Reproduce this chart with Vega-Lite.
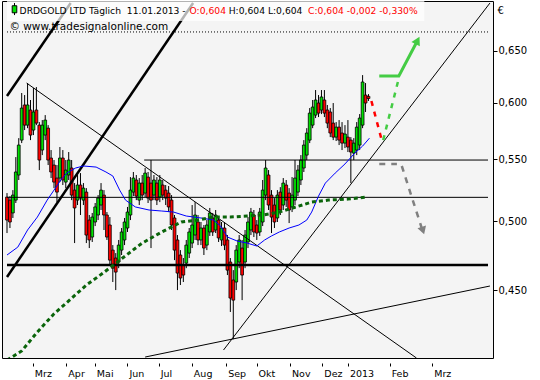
{
"$schema":"https://vega.github.io/schema/vega-lite/v6.json",
"width":491,"height":357,
"autosize":{"type":"none"},
"padding":{"left":2,"top":1,"right":47,"bottom":22},
"background":"white",
"config":{"font":"DejaVu Sans","view":{"stroke":"black","strokeWidth":1,"fill":"#f4f4f4"},"axis":{"labelColor":"black","tickColor":"black","titleColor":"black","labelFont":"DejaVu Sans","titleFont":"DejaVu Sans"}},
"datasets":{
"candles":[
{"i":0,"o":0.5191,"h":0.5223,"l":0.4912,"c":0.5011},{"i":1,"o":0.5167,"h":0.5199,"l":0.4950,"c":0.4996},{"i":2,"o":0.5066,"h":0.5247,"l":0.5027,"c":0.5207},{"i":3,"o":0.5167,"h":0.5520,"l":0.5144,"c":0.5395},{"i":4,"o":0.5370,"h":0.5683,"l":0.5329,"c":0.5623},{"i":5,"o":0.5666,"h":0.6091,"l":0.5640,"c":0.5952},{"i":6,"o":0.5980,"h":0.6072,"l":0.5754,"c":0.5798},{"i":7,"o":0.5798,"h":0.6185,"l":0.5771,"c":0.5980},{"i":8,"o":0.5934,"h":0.6026,"l":0.5666,"c":0.5710},{"i":9,"o":0.5754,"h":0.6138,"l":0.5710,"c":0.5916},
{"i":10,"o":0.5934,"h":0.6147,"l":0.5798,"c":0.5816},{"i":11,"o":0.5798,"h":0.5825,"l":0.5411,"c":0.5495},{"i":12,"o":0.5580,"h":0.5843,"l":0.5537,"c":0.5798},{"i":13,"o":0.5710,"h":0.5888,"l":0.5666,"c":0.5843},{"i":14,"o":0.5771,"h":0.5798,"l":0.5453,"c":0.5495},{"i":15,"o":0.5512,"h":0.5580,"l":0.5345,"c":0.5395},{"i":16,"o":0.5453,"h":0.5495,"l":0.5263,"c":0.5312},{"i":17,"o":0.5345,"h":0.5453,"l":0.5151,"c":0.5231},{"i":18,"o":0.5345,"h":0.5606,"l":0.5312,"c":0.5512},{"i":19,"o":0.5512,"h":0.5580,"l":0.5288,"c":0.5329},
{"i":20,"o":0.5312,"h":0.5495,"l":0.5263,"c":0.5411},{"i":21,"o":0.5370,"h":0.5563,"l":0.5329,"c":0.5495},{"i":22,"o":0.5428,"h":0.5495,"l":0.5167,"c":0.5207},{"i":23,"o":0.5247,"h":0.5304,"l":0.4837,"c":0.5105},{"i":24,"o":0.5167,"h":0.5370,"l":0.5128,"c":0.5288},{"i":25,"o":0.5288,"h":0.5386,"l":0.5050,"c":0.5183},{"i":26,"o":0.5167,"h":0.5304,"l":0.5128,"c":0.5263},{"i":27,"o":0.5231,"h":0.5263,"l":0.4837,"c":0.4897},{"i":28,"o":0.5011,"h":0.5050,"l":0.4800,"c":0.4860},{"i":29,"o":0.4882,"h":0.5066,"l":0.4845,"c":0.5034},
{"i":30,"o":0.4996,"h":0.5144,"l":0.4965,"c":0.5113},{"i":31,"o":0.5050,"h":0.5207,"l":0.5011,"c":0.5183},{"i":32,"o":0.5128,"h":0.5304,"l":0.5089,"c":0.5247},{"i":33,"o":0.5207,"h":0.5247,"l":0.4935,"c":0.5050},{"i":34,"o":0.5050,"h":0.5073,"l":0.4860,"c":0.4882},{"i":35,"o":0.4973,"h":0.5034,"l":0.4676,"c":0.4712},{"i":36,"o":0.4785,"h":0.4822,"l":0.4556,"c":0.4654},{"i":37,"o":0.4727,"h":0.4763,"l":0.4500,"c":0.4626},{"i":38,"o":0.4698,"h":0.4860,"l":0.4654,"c":0.4822},{"i":39,"o":0.4785,"h":0.4950,"l":0.4749,"c":0.4920},
{"i":40,"o":0.4860,"h":0.5027,"l":0.4822,"c":0.4996},{"i":41,"o":0.4950,"h":0.5113,"l":0.4920,"c":0.5073},{"i":42,"o":0.5050,"h":0.5353,"l":0.5011,"c":0.5247},{"i":43,"o":0.5231,"h":0.5395,"l":0.5199,"c":0.5345},{"i":44,"o":0.5329,"h":0.5370,"l":0.5167,"c":0.5199},{"i":45,"o":0.5167,"h":0.5345,"l":0.5128,"c":0.5304},{"i":46,"o":0.5304,"h":0.5370,"l":0.5167,"c":0.5207},{"i":47,"o":0.5223,"h":0.5428,"l":0.5191,"c":0.5386},{"i":48,"o":0.5353,"h":0.5395,"l":0.5144,"c":0.5183},{"i":49,"o":0.5304,"h":0.5495,"l":0.4800,"c":0.5167},
{"i":50,"o":0.5207,"h":0.5370,"l":0.5167,"c":0.5329},{"i":51,"o":0.5304,"h":0.5353,"l":0.5128,"c":0.5167},{"i":52,"o":0.5191,"h":0.5370,"l":0.5151,"c":0.5329},{"i":53,"o":0.5288,"h":0.5329,"l":0.5167,"c":0.5207},{"i":54,"o":0.5247,"h":0.5288,"l":0.5128,"c":0.5183},{"i":55,"o":0.5223,"h":0.5280,"l":0.5073,"c":0.5113},{"i":56,"o":0.5167,"h":0.5207,"l":0.4935,"c":0.4973},{"i":57,"o":0.5027,"h":0.5050,"l":0.4712,"c":0.4785},{"i":58,"o":0.4860,"h":0.4897,"l":0.4500,"c":0.4619},{"i":59,"o":0.4749,"h":0.4785,"l":0.4535,"c":0.4584},
{"i":60,"o":0.4676,"h":0.4727,"l":0.4556,"c":0.4605},{"i":61,"o":0.4690,"h":0.4860,"l":0.4654,"c":0.4822},{"i":62,"o":0.4763,"h":0.4950,"l":0.4727,"c":0.4920},{"i":63,"o":0.4837,"h":0.5128,"l":0.4800,"c":0.4973},{"i":64,"o":0.4897,"h":0.5151,"l":0.4860,"c":0.5050},{"i":65,"o":0.4996,"h":0.5050,"l":0.4822,"c":0.4860},{"i":66,"o":0.4860,"h":0.4996,"l":0.4822,"c":0.4950},{"i":67,"o":0.4950,"h":0.4973,"l":0.4749,"c":0.4800},{"i":68,"o":0.4822,"h":0.5011,"l":0.4785,"c":0.4973},{"i":69,"o":0.4920,"h":0.5105,"l":0.4890,"c":0.5066},
{"i":70,"o":0.5027,"h":0.5066,"l":0.4890,"c":0.4920},{"i":71,"o":0.4935,"h":0.5089,"l":0.4912,"c":0.5050},{"i":72,"o":0.5011,"h":0.5042,"l":0.4845,"c":0.4875},{"i":73,"o":0.4860,"h":0.4996,"l":0.4815,"c":0.4950},{"i":74,"o":0.4950,"h":0.4996,"l":0.4785,"c":0.4822},{"i":75,"o":0.4860,"h":0.4897,"l":0.4605,"c":0.4640},{"i":76,"o":0.4698,"h":0.4727,"l":0.4351,"c":0.4445},{"i":77,"o":0.4570,"h":0.4640,"l":0.4173,"c":0.4431},{"i":78,"o":0.4556,"h":0.4822,"l":0.4500,"c":0.4785},{"i":79,"o":0.4698,"h":0.4897,"l":0.4654,"c":0.4860},
{"i":80,"o":0.4800,"h":0.4860,"l":0.4431,"c":0.4605},{"i":81,"o":0.4698,"h":0.4935,"l":0.4654,"c":0.4897},{"i":82,"o":0.4845,"h":0.5034,"l":0.4800,"c":0.4996},{"i":83,"o":0.4935,"h":0.5105,"l":0.4897,"c":0.5073},{"i":84,"o":0.5050,"h":0.5089,"l":0.4882,"c":0.4920},{"i":85,"o":0.4973,"h":0.5011,"l":0.4860,"c":0.4912},{"i":86,"o":0.4920,"h":0.5105,"l":0.4890,"c":0.5073},{"i":87,"o":0.4996,"h":0.5329,"l":0.4965,"c":0.5247},{"i":88,"o":0.5207,"h":0.5495,"l":0.5167,"c":0.5428},{"i":89,"o":0.5370,"h":0.5411,"l":0.5089,"c":0.5128},
{"i":90,"o":0.5207,"h":0.5247,"l":0.4912,"c":0.5034},{"i":91,"o":0.5128,"h":0.5183,"l":0.4950,"c":0.4996},{"i":92,"o":0.5027,"h":0.5247,"l":0.4996,"c":0.5207},{"i":93,"o":0.5231,"h":0.5271,"l":0.5050,"c":0.5089},{"i":94,"o":0.5128,"h":0.5345,"l":0.5089,"c":0.5304},{"i":95,"o":0.5288,"h":0.5329,"l":0.5113,"c":0.5167},{"i":96,"o":0.5223,"h":0.5263,"l":0.4988,"c":0.5089},{"i":97,"o":0.5113,"h":0.5353,"l":0.5073,"c":0.5207},{"i":98,"o":0.5167,"h":0.5495,"l":0.5128,"c":0.5345},{"i":99,"o":0.5231,"h":0.5453,"l":0.5199,"c":0.5411},
{"i":100,"o":0.5329,"h":0.5537,"l":0.5288,"c":0.5495},{"i":101,"o":0.5428,"h":0.5666,"l":0.5395,"c":0.5623},{"i":102,"o":0.5537,"h":0.5771,"l":0.5495,"c":0.5728},{"i":103,"o":0.5666,"h":0.5952,"l":0.5640,"c":0.5906},{"i":104,"o":0.5798,"h":0.6026,"l":0.5771,"c":0.5961},{"i":105,"o":0.5888,"h":0.6119,"l":0.5861,"c":0.6026},{"i":106,"o":0.5998,"h":0.6072,"l":0.5870,"c":0.5906},{"i":107,"o":0.5934,"h":0.6119,"l":0.5897,"c":0.6054},{"i":108,"o":0.6026,"h":0.6119,"l":0.5870,"c":0.5906},{"i":109,"o":0.5934,"h":0.5980,"l":0.5771,"c":0.5816},
{"i":110,"o":0.5916,"h":0.5952,"l":0.5692,"c":0.5728},{"i":111,"o":0.5816,"h":0.5998,"l":0.5666,"c":0.5692},{"i":112,"o":0.5692,"h":0.5825,"l":0.5658,"c":0.5780},{"i":113,"o":0.5780,"h":0.5843,"l":0.5623,"c":0.5666},{"i":114,"o":0.5728,"h":0.5825,"l":0.5580,"c":0.5640},{"i":115,"o":0.5640,"h":0.5798,"l":0.5597,"c":0.5719},{"i":116,"o":0.5692,"h":0.5843,"l":0.5563,"c":0.5606},{"i":117,"o":0.5666,"h":0.5692,"l":0.5304,"c":0.5563},{"i":118,"o":0.5554,"h":0.5683,"l":0.5495,"c":0.5640},{"i":119,"o":0.5580,"h":0.5825,"l":0.5537,"c":0.5780},
{"i":120,"o":0.5623,"h":0.5897,"l":0.5580,"c":0.5861},{"i":121,"o":0.5798,"h":0.6261,"l":0.5771,"c":0.6195},{"i":122,"o":0.6072,"h":0.6185,"l":0.5916,"c":0.5998},{"i":123,"o":0.6060,"h":0.6081,"l":0.6017,"c":0.6040}
],
"ma50":[{"i":0,"v":0.4749},{"i":3.67,"v":0.4807},{"i":7,"v":0.4935},{"i":10.33,"v":0.5034},{"i":13.67,"v":0.5167},{"i":16,"v":0.5247},{"i":18.33,"v":0.5329},{"i":20.33,"v":0.5386},{"i":23.33,"v":0.5428},{"i":26,"v":0.5445},{"i":30.33,"v":0.5436},{"i":33.67,"v":0.5395},{"i":36,"v":0.5362},{"i":38.33,"v":0.5247},{"i":40.33,"v":0.5167},{"i":43.67,"v":0.5113},{"i":48.33,"v":0.5089},{"i":52.67,"v":0.5081},{"i":56.67,"v":0.5073},{"i":61,"v":0.5042},{"i":66,"v":0.5027},{"i":70.33,"v":0.5011},{"i":72.67,"v":0.4965},{"i":75,"v":0.4882},{"i":78.33,"v":0.4852},{"i":81.67,"v":0.4837},{"i":85,"v":0.4815},{"i":87.67,"v":0.4860},{"i":90,"v":0.4890},{"i":92.67,"v":0.4920},{"i":96,"v":0.4950},{"i":99.33,"v":0.4973},{"i":102,"v":0.5011},{"i":103.67,"v":0.5073},{"i":106,"v":0.5199},{"i":108.33,"v":0.5304},{"i":111.67,"v":0.5386},{"i":115,"v":0.5462},{"i":118.33,"v":0.5554},{"i":121,"v":0.5614},{"i":123.33,"v":0.5683}],
"ma200":[{"i":0,"v":0.4041},{"i":5,"v":0.4098},{"i":10.33,"v":0.4219},{"i":16,"v":0.4339},{"i":21.67,"v":0.4438},{"i":27,"v":0.4535},{"i":32.67,"v":0.4619},{"i":39.33,"v":0.4727},{"i":46,"v":0.4837},{"i":52.67,"v":0.4920},{"i":59.33,"v":0.4996},{"i":65,"v":0.5011},{"i":70.33,"v":0.5034},{"i":76,"v":0.5034},{"i":81.67,"v":0.5042},{"i":87,"v":0.5050},{"i":92.67,"v":0.5073},{"i":98.33,"v":0.5113},{"i":103.67,"v":0.5151},{"i":109.33,"v":0.5167},{"i":116,"v":0.5175},{"i":122,"v":0.5191}],
"thin":[{"id":"D","i":6.67,"v":0.6185},{"id":"D","i":139.33,"v":0.4054},{"id":"A","i":73.67,"v":0.4104},{"id":"A","i":164.33,"v":0.6994},{"id":"B","i":47,"v":0.4060},{"id":"B","i":164.33,"v":0.4528},{"id":"H1","i":46.67,"v":0.5495},{"id":"H1","i":163.67,"v":0.5495},{"id":"H2","i":0,"v":0.5189},{"id":"H2","i":163.67,"v":0.5189}],
"thick":[{"id":"T1","i":0,"v":0.6063},{"id":"T1","i":21.67,"v":0.6994},{"id":"T2","i":0,"v":0.4591},{"id":"T2","i":63.33,"v":0.6994},{"id":"H3","i":0,"v":0.4676},{"id":"H3","i":163.67,"v":0.4676}],
"dotted":[{"i":0,"v":0.669},{"i":163.67,"v":0.669}],
"fcred":[{"i":124,"v":0.6017},{"i":127.67,"v":0.5649}],
"fcgdash":[{"i":128,"v":0.5666},{"i":133,"v":0.6195}],
"fcgreen":[{"i":126.67,"v":0.6252},{"i":133.33,"v":0.6252},{"i":139.7,"v":0.6603}],
"fcgray":[{"id":"h","i":126.67,"v":0.5461},{"id":"h","i":132.67,"v":0.5461},{"id":"d","i":134.33,"v":0.5445},{"id":"d","i":141.33,"v":0.4935}],
"headgreen":[{"i":139.7,"v":0.6603}],
"headgray":[{"i":141.53,"v":0.4930}],
"box":[{"i":0,"i2":142,"v":0.72,"v2":0.6803}],
"txtname":[{"i":60.8,"v":0.6882,"t":"DRDGOLD LTD Täglich\u00a0\u00a011.01.2013 -"}],
"txtblack":[{"i":75.43,"v":0.6882,"t":"H:0,604 L:0,604"}],
"txtsite":[{"i":0.83,"v":0.6715,"t":"© www.tradesignalonline.com"}],
"txtred":[{"i":62.1,"v":0.6882,"t":"O:0,604"},{"i":102.43,"v":0.6882,"t":"C:0,604 -0,002 -0,330%"}],
"icon":[{"i":2.55,"i1":1.77,"i2":3.33,"lo":0.6866,"hi":0.6994,"bo":0.6890,"bt":0.6965}]
},
"encoding":{
"x":{"field":"i","type":"quantitative","scale":{"domain":[0,163.667],"nice":false,"zero":false},
"axis":{"values":[8.8,20.2,29.9,41,51.6,62.9,74.6,84.9,96.3,107.3,116,130.2,144.7],
"labelExpr":"datum.value < 15 ? 'Mrz' : datum.value < 25 ? 'Apr' : datum.value < 35 ? 'Mai' : datum.value < 46 ? 'Jun' : datum.value < 57 ? 'Jul' : datum.value < 68 ? 'Aug' : datum.value < 80 ? 'Sep' : datum.value < 90 ? 'Okt' : datum.value < 100 ? 'Nov' : datum.value < 112 ? 'Dez' : datum.value < 123 ? '2013' : datum.value < 137 ? 'Feb' : 'Mrz'",
"title":null,"grid":false,"domain":false,"tickSize":3,"offset":5,"labelAlign":"left","labelOffset":1.5,"labelPadding":2,"labelBaseline":"top","labelFontSize":9.5,"labelOverlap":false,"labelFlush":false}},
"y":{"field":"v","type":"quantitative","scale":{"type":"log","domain":[0.4054,0.7016],"nice":false,"zero":false},
"axis":{"orient":"right","values":[0.45,0.5,0.55,0.6,0.65],"labelExpr":"replace(format(datum.value,'.3f'),'.',',')","grid":false,"domain":false,"tickSize":4,"labelPadding":1,"labelFontSize":10,"labelOverlap":false,"labelFlush":false,
"title":"€","titleAngle":0,"titleX":4,"titleY":9,"titleAlign":"left","titleBaseline":"middle","titleFontWeight":"normal","titleFontSize":10}}
},
"layer":[
{"data":{"name":"candles"},"mark":{"type":"rule","color":"black","strokeWidth":1,"clip":true},
 "encoding":{"y":{"field":"l","type":"quantitative","scale":{"type":"log","domain":[0.4054,0.7016],"nice":false,"zero":false}},"y2":{"field":"h"}}},
{"data":{"name":"candles"},"mark":{"type":"bar","width":2.8,"stroke":"black","strokeWidth":0.8,"clip":true},
 "encoding":{"y":{"field":"o","type":"quantitative","scale":{"type":"log","domain":[0.4054,0.7016],"nice":false,"zero":false}},"y2":{"field":"c"},
 "fill":{"condition":{"test":"datum.c >= datum.o","value":"#00e000"},"value":"#ff0000"}}},
{"data":{"name":"thin"},"mark":{"type":"line","color":"black","strokeWidth":1,"clip":true},"encoding":{"detail":{"field":"id"}}},
{"data":{"name":"thick"},"mark":{"type":"line","color":"black","strokeWidth":2.5,"clip":true},"encoding":{"detail":{"field":"id"}}},
{"data":{"name":"dotted"},"mark":{"type":"line","color":"black","strokeWidth":1,"strokeDash":[1,2],"clip":true},"encoding":{}},
{"data":{"name":"ma50"},"mark":{"type":"line","color":"#0000ff","strokeWidth":1,"clip":true},"encoding":{}},
{"data":{"name":"ma200"},"mark":{"type":"line","color":"#0a640a","strokeWidth":3,"strokeDash":[4,3],"clip":true},"encoding":{}},
{"data":{"name":"fcred"},"mark":{"type":"line","color":"#ff0000","strokeWidth":2.5,"strokeDash":[5,6]},"encoding":{}},
{"data":{"name":"fcgdash"},"mark":{"type":"line","color":"#44cc44","strokeWidth":2.5,"strokeDash":[5,6]},"encoding":{}},
{"data":{"name":"fcgreen"},"mark":{"type":"line","color":"#44cc44","strokeWidth":3},"encoding":{}},
{"data":{"name":"fcgray"},"mark":{"type":"line","color":"#808080","strokeWidth":2.5,"strokeDash":[6,6]},"encoding":{"detail":{"field":"id"}}},
{"data":{"name":"headgreen"},"mark":{"type":"point","shape":"triangle-up","filled":true,"color":"#44cc44","size":90,"angle":28,"opacity":1}},
{"data":{"name":"headgray"},"mark":{"type":"point","shape":"triangle-up","filled":true,"color":"#808080","size":80,"angle":162,"opacity":1}},
{"data":{"name":"box"},"mark":{"type":"rect","fill":"white","opacity":0.7,"clip":true},"encoding":{"x2":{"field":"i2"},"y2":{"field":"v2"}}},
{"data":{"name":"txtname"},"mark":{"type":"text","align":"right","baseline":"alphabetic","fontSize":9.2,"color":"black","font":"DejaVu Sans"},"encoding":{"text":{"field":"t"}}},
{"data":{"name":"txtblack"},"mark":{"type":"text","align":"left","baseline":"alphabetic","fontSize":9.2,"color":"black","font":"DejaVu Sans"},"encoding":{"text":{"field":"t"}}},
{"data":{"name":"txtsite"},"mark":{"type":"text","align":"left","baseline":"alphabetic","fontSize":10.5,"color":"black","font":"DejaVu Sans"},"encoding":{"text":{"field":"t"}}},
{"data":{"name":"txtred"},"mark":{"type":"text","align":"left","baseline":"alphabetic","fontSize":9.2,"color":"#ff0000","font":"DejaVu Sans"},"encoding":{"text":{"field":"t"}}},
{"data":{"name":"icon"},"mark":{"type":"rule","color":"black","strokeWidth":1},"encoding":{"y":{"field":"lo","type":"quantitative","scale":{"type":"log","domain":[0.4054,0.7016],"nice":false,"zero":false}},"y2":{"field":"hi"}}},
{"data":{"name":"icon"},"mark":{"type":"rect","fill":"#00e000","stroke":"black","strokeWidth":1},"encoding":{"x":{"field":"i1","type":"quantitative","scale":{"domain":[0,163.667],"nice":false,"zero":false}},"x2":{"field":"i2"},"y":{"field":"bo","type":"quantitative","scale":{"type":"log","domain":[0.4054,0.7016],"nice":false,"zero":false}},"y2":{"field":"bt"}}}
]
}
